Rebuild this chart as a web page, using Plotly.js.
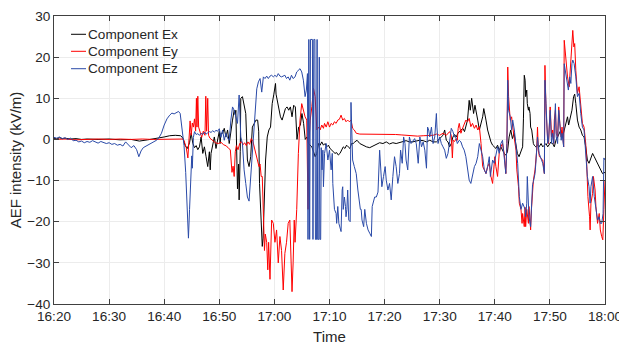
<!DOCTYPE html>
<html>
<head>
<meta charset="utf-8">
<script src="https://cdn.plot.ly/plotly-3.0.1.min.js"></script>
<style>html,body{margin:0;padding:0;background:#fff;}#chart{width:619px;height:346px;}</style>
</head>
<body>
<div id="chart"></div>
<script>
// time in minutes after 16:20, value in kV/m
const tickMinutes = [0,10,20,30,40,50,60,70,80,90,100];
const tickLabels = ['16:20','16:30','16:40','16:50','17:00','17:10','17:20','17:30','17:40','17:50','18:00'];
const seriesNames = ['Component Ex','Component Ey','Component Ez'];

const ex = [[0,0.3],[0.5,0.1],[1,0.4],[1.5,0.2],[2,0.3],[3,0.1],[4,0.2],[5,0.0],[6,0.1],[8,0.0],[10,0.1],[12,-0.1],[14,0.0],[15.5,-0.4],[17,-0.1],[18,0.1],[19,0.3],[20,0.6],[21,0.9],[22,1.0],[23,0.9],[23.4,0.3],[23.8,-1.5],[24.2,-2.2],[24.6,-0.8],[24.9,1.5],[25.2,-1],[25.5,-2],[25.8,-1.5],[26.1,-2.5],[26.4,-1.8],[26.7,0.6],[27.0,-3.4],[27.3,-1.8],[27.6,-4.2],[27.9,-6.6],[28.2,-3],[28.35,-7.4],[28.5,-3.4],[28.8,-1],[29.1,0.6],[29.4,-2.2],[29.7,-0.2],[30.0,2],[30.15,-1],[30.3,1.5],[30.6,1.5],[30.9,2.7],[31.2,0.6],[31.5,2.3],[31.8,-1],[32.1,2.3],[32.4,4.7],[32.7,7.1],[32.9,6],[33.0,7.1],[33.2,-5],[33.3,-12],[33.5,-6],[33.6,-14.7],[33.8,-3],[33.9,10],[34.2,10.4],[34.5,8],[34.8,6.3],[35.1,-5],[35.4,-6.6],[35.7,-4.2],[36.0,3],[36.35,3.9],[36.65,4.7],[36.96,4.7],[37.15,2],[37.3,-10.7],[37.55,-17],[37.8,-26],[37.95,-24],[38.15,-13.6],[38.4,-5],[38.7,0.6],[39.0,2.3],[39.3,3],[39.6,8.7],[39.9,11],[40.2,13.6],[40.3,11],[40.5,9.5],[40.8,7.9],[41.1,5.5],[41.4,4.7],[41.7,6.3],[42.0,7.5],[42.3,7.9],[42.6,7.1],[42.9,7.9],[43.2,5.5],[43.5,8.3],[43.8,7.9],[44.1,0],[44.4,3],[44.7,3.4],[45.0,6.3],[45.3,3.9],[45.6,0],[45.9,0.6],[46.2,-1],[46.8,-1.8],[47.4,-4.2],[47.7,-3.4],[48.0,-1],[48.3,-1.4],[48.6,-0.6],[48.9,-1.4],[49.2,-1],[49.5,-1.8],[49.8,-1.4],[50.1,-2.2],[50.4,-2.6],[50.7,-3],[51.0,-3.4],[51.3,-3.2],[51.6,-3.8],[51.9,-3.4],[52.2,-2.6],[52.5,-1.8],[52.8,-2.2],[53.1,-1.4],[53.4,-1.8],[53.7,-2.2],[54.0,-1],[54.3,-1],[54.6,-0.6],[55.0,-0.2],[55.5,-1],[56.0,-1.4],[56.7,-1.8],[57.3,-2],[57.9,-1.6],[58.5,-1],[59.1,-0.8],[59.7,-1],[60.3,-0.6],[60.9,-1.1],[61.5,-0.8],[62.1,-1],[62.7,-0.8],[63.3,-0.6],[63.9,-0.3],[64.5,-0.6],[65.1,-0.6],[65.7,-0.4],[66.4,-0.2],[67.0,-0.3],[67.6,-0.6],[68.2,-0.2],[68.8,-0.6],[69.4,-0.6],[70.0,0.2],[70.6,1],[70.9,2.3],[71.2,-0.2],[71.5,-0.6],[71.8,-1.8],[72.1,-1],[72.4,0.6],[72.7,1.2],[73.0,0.6],[73.3,1.5],[73.6,1.9],[73.9,2.3],[74.2,2.7],[74.5,1.9],[74.8,3.4],[75.05,4.7],[75.35,9.5],[75.55,7.1],[75.8,10],[75.95,8],[76.15,6.3],[76.4,8.3],[76.6,7.1],[76.9,4.7],[77.2,2.3],[77.5,3.9],[77.8,5.5],[78.0,7.5],[78.2,6.3],[78.4,4.7],[78.7,2.3],[79.0,0.6],[79.3,-0.6],[79.6,-1.4],[79.9,-1.8],[80.2,-2.2],[80.5,-1.4],[80.8,-2.6],[81.1,-1.8],[81.4,-2.6],[81.7,-3.4],[82.0,-3.8],[82.3,-3],[82.6,0.6],[82.9,2.3],[83.2,0.2],[83.5,1.5],[83.8,-1],[84.1,-3.4],[84.4,-4.2],[84.75,-2.6],[85.05,-1.8],[85.2,5],[85.35,15.6],[85.5,14.4],[85.6,10.4],[85.8,12],[85.9,8.7],[86.1,7.1],[86.2,7.9],[86.4,6.3],[86.5,3],[86.7,2.3],[86.85,-0.2],[87.0,-1],[87.15,-1.4],[87.45,-1.8],[87.75,-1.4],[88.05,-1.8],[88.4,-1],[88.7,-1.8],[89.0,-1.4],[89.3,-1],[89.6,-1.8],[89.9,-1],[90.2,-0.6],[90.5,-1],[90.8,-1.8],[91.1,-0.2],[91.4,0.6],[91.7,1.5],[92.0,2.3],[92.3,0.6],[92.6,2.3],[92.9,3.9],[93.2,5.5],[93.4,3.5],[93.6,4.7],[93.8,5.5],[94.0,7.1],[94.3,10.4],[94.5,11],[94.7,8.7],[95.0,4.7],[95.3,3],[95.6,2.3],[95.9,1],[96.2,0.6],[96.5,-1.8],[96.8,-5],[97.1,-5.8],[97.45,-4.2],[97.75,-3.4],[98.05,-4.2],[98.35,-5],[98.65,-5.8],[98.95,-6.6],[99.25,-7.4],[99.55,-8.3],[100,-8]];

const ey = [[0,0.0],[2,0.1],[4,-0.1],[6,0.0],[8,0.1],[10,0.0],[12,0.1],[14,0.0],[16,0.1],[18,0.0],[20,0.1],[22,0.1],[23.4,0.1],[23.6,-0.3],[24.0,-2.0],[24.3,-4.5],[24.5,-1],[24.7,4.5],[24.9,1],[25.1,4],[25.3,3],[25.5,5],[25.7,2],[25.85,10],[25.95,3],[26.1,10.5],[26.25,3],[26.5,1.5],[26.8,0.5],[27.1,2],[27.4,1],[27.55,10.5],[27.7,2],[27.9,10],[28.05,1],[28.3,0.3],[28.8,-0.3],[29.3,-0.8],[29.8,-1.0],[30.3,-0.7],[30.8,-1.3],[31.3,-1.6],[31.7,-2.2],[32.0,-2.5],[32.3,-8],[32.5,-6.5],[32.7,-9],[32.9,-3],[33.1,-1.5],[33.4,-2.5],[33.7,-1.0],[34.0,-0.5],[34.3,-1.3],[34.6,-0.8],[34.9,-1.5],[35.2,-0.6],[35.5,-1.2],[35.8,0.2],[36.1,-0.5],[36.4,-2],[36.7,-3.4],[37.0,-5],[37.2,-6.6],[37.4,-6],[37.6,-9],[37.8,-9],[38.0,-20],[38.2,-27],[38.35,-23],[38.6,-25],[38.8,-31.7],[38.95,-25],[39.2,-34],[39.35,-28],[39.5,-19.6],[39.8,-20.4],[40.1,-25],[40.4,-22],[40.7,-30],[41.0,-23.6],[41.3,-27],[41.6,-36.6],[41.9,-27.7],[42.2,-25],[42.5,-20.4],[42.8,-19.6],[43.0,-27],[43.2,-37],[43.4,-30],[43.6,-19.6],[43.75,-25],[44.05,-17],[44.35,-3.4],[44.65,4.7],[44.96,8.7],[45.26,7],[45.57,5.5],[45.87,4.7],[46.1,-17],[46.3,0],[46.5,4.7],[46.8,8],[47.1,12.4],[47.4,10.4],[47.7,2.3],[48.0,3],[48.3,2.3],[48.6,3.5],[48.9,2.7],[49.1,3.9],[49.4,3],[49.7,4.3],[50.0,3],[50.3,3.9],[50.6,3.5],[50.9,4.3],[51.2,3.9],[51.5,4.7],[51.8,4.9],[52.1,5.9],[52.4,4.7],[52.7,5.1],[53.0,4.3],[53.3,4.7],[53.6,4.3],[53.9,4.7],[54.2,2.7],[54.5,2.3],[54.85,1.5],[55.5,1.3],[56.1,1.3],[57,1.3],[58,1.2],[59,1.3],[60,1.2],[61,1.3],[62,1.2],[63,1.1],[64,1.0],[65,0.8],[66,0.8],[67,0.9],[68,1.0],[68.8,1.0],[69.4,1.3],[70.0,1.0],[70.6,1.5],[71.2,1.0],[71.8,1.9],[72.1,1.0],[72.3,-4.5],[72.45,-0.2],[72.7,-0.5],[73.0,0.2],[73.2,-0.2],[73.35,2.7],[73.55,3.9],[73.85,1.5],[74.15,2.7],[74.45,3.5],[74.75,4.7],[75.05,4.3],[75.35,5.1],[75.65,3.1],[75.95,3.9],[76.3,2.7],[76.6,3.5],[76.9,2.3],[77.2,3.1],[77.5,-1],[77.8,-6.6],[78.1,-7.4],[78.4,-8.3],[78.7,-6.6],[79.0,-5.8],[79.3,-9],[79.6,-10.7],[79.8,-7.4],[80.0,-4.2],[80.2,-6.6],[80.5,-9],[80.8,-3.4],[81.1,-1.8],[81.4,-1],[81.7,-3.4],[82.0,-8.3],[82.2,-1],[82.35,17.6],[82.5,10.4],[82.8,4.7],[83.05,5.5],[83.25,3],[83.55,0.6],[83.85,-2.6],[84.0,-7.4],[84.3,-11.5],[84.45,-15.5],[84.75,-17],[84.95,-20.4],[85.05,-18],[85.35,-21.2],[85.5,-16.5],[85.6,-21.2],[85.8,-17],[86.1,-20.4],[86.2,-16.3],[86.4,-19.6],[86.5,-22],[86.65,-17],[86.85,-11.5],[87.0,-10],[87.3,-7.4],[87.45,-5],[87.6,-2.6],[87.75,3],[87.9,-2.6],[88.1,-4.2],[88.4,-4.6],[88.7,-5],[89.0,-8.3],[89.1,18],[89.3,7.1],[89.45,3],[89.6,-0.2],[89.75,-1],[90.05,7.9],[90.3,0.6],[90.5,2.3],[90.7,-1],[90.8,4.7],[91.0,7.1],[91.15,1.5],[91.4,0.6],[91.6,7.9],[91.8,3.9],[92.05,0.6],[92.2,3],[92.5,-1.8],[92.6,24.1],[92.8,20.9],[92.9,18.4],[93.2,15.2],[93.5,12.8],[93.8,18.4],[94.0,23.3],[94.15,26.5],[94.35,22.5],[94.5,23.3],[94.7,16.8],[95.0,11.2],[95.3,12.8],[95.6,7.1],[95.9,3.9],[96.2,3],[96.5,-1],[96.7,-6.6],[96.9,-13.9],[97.2,-18.8],[97.3,-22],[97.45,-15.5],[97.75,-13.1],[97.9,-9],[98.2,-12.3],[98.35,-16.3],[98.65,-20.4],[98.95,-18],[99.15,-22],[99.4,-23.6],[99.6,-24.4],[99.8,-17],[100,-10]];

const ez = [[0,0.5],[0.5,0.3],[1,0.6],[1.5,0.2],[2,0.4],[2.5,0.0],[3,0.3],[3.5,-0.3],[4,-0.2],[4.5,-0.6],[5,-0.4],[5.5,-0.8],[6,-0.5],[6.5,-0.7],[7,-0.3],[7.5,-0.6],[8,-0.9],[8.5,-0.5],[9,-0.7],[9.5,-1.0],[10,-0.8],[10.5,-1.2],[11,-1.0],[11.5,-1.4],[12,-1.2],[12.5,-1.6],[13,-0.6],[13.5,-1.2],[14,-2.0],[14.5,-1.5],[15,-2.5],[15.4,-4.2],[15.8,-2.8],[16.2,-2.0],[16.8,-1.6],[17.4,-1.0],[18,-0.6],[18.6,-0.2],[19,0.3],[19.5,1.5],[20,3.5],[20.5,5.0],[21,5.9],[21.4,6.4],[21.8,6.2],[22.2,6.5],[22.6,6.8],[22.9,6.3],[23.2,3.5],[23.6,-1.5],[23.9,-8],[24.2,-18],[24.4,-24],[24.6,-17],[24.8,-9],[25.0,-4],[25.1,-7],[25.3,0.5],[25.5,1.9],[25.8,1.2],[26.1,1.4],[26.4,1.0],[26.7,1.5],[27.0,1.2],[27.3,1.8],[27.6,1.3],[27.9,1.6],[28.2,1.9],[28.5,1.7],[28.8,2.1],[29.1,1.8],[29.4,2.2],[29.7,2.0],[30.0,2.6],[30.3,0.5],[30.6,2.3],[30.9,-0.2],[31.2,1.5],[31.5,0.3],[31.8,-0.2],[32.1,4.7],[32.4,7.9],[32.7,7.1],[33.0,5.5],[33.3,3.9],[33.6,10.8],[33.75,4],[33.9,0.6],[34.2,-1],[34.5,-7.4],[34.8,-10.7],[35.1,-14],[35.4,-15],[35.7,-9],[36.0,-1],[36.3,4.7],[36.5,8],[36.8,12.3],[37.1,14],[37.4,14.8],[37.7,11.5],[38.0,15.2],[38.3,14.8],[38.6,15.4],[38.9,14.8],[39.2,15.4],[39.5,15.6],[39.8,15.2],[40.1,15.6],[40.4,15.2],[40.7,16],[41.0,15.4],[41.3,15.2],[41.6,15.4],[41.9,15.6],[42.2,14.8],[42.5,15.2],[42.8,14.4],[43.1,15.6],[43.4,14.8],[43.75,15.2],[44.05,16.4],[44.35,16.8],[44.65,17.2],[44.96,16.4],[45.26,14.4],[45.57,10.4],[45.8,12],[46.0,16],[46.1,-24.3],[46.25,24.3],[46.4,-24.3],[46.55,24.3],[46.9,24.3],[47.0,-24.3],[47.15,24.3],[47.35,24.3],[47.45,-24.3],[47.65,-24.3],[47.75,24.3],[47.85,-24.3],[48.05,-24.3],[48.15,20],[48.25,-24.3],[48.4,-24.3],[48.5,-2],[48.65,-7.4],[48.8,-2.6],[48.9,-11.5],[49.1,-3.4],[49.4,-1],[49.7,-5],[50.0,-2.6],[50.3,-7.4],[50.5,-3.4],[50.6,-10.7],[50.9,-17],[51.2,-18],[51.3,-20.4],[51.5,-16.3],[51.7,-20.4],[51.9,-21.6],[52.1,-22.4],[52.3,-12.3],[52.4,-11.5],[52.5,-17],[52.7,-14],[52.9,-16.3],[53.0,-18.8],[53.15,-17],[53.3,-12.3],[53.5,-19.6],[53.75,-20],[53.9,9],[54.1,-1],[54.2,-5],[54.5,-6.6],[54.85,-8.3],[55.15,-12.3],[55.3,-14],[55.6,-17],[55.75,-17],[55.9,-19.6],[56.2,-21.2],[56.4,-17],[56.7,-20.4],[57.0,-22],[57.3,-22.8],[57.6,-23.6],[57.75,-16.3],[58.0,-14.7],[58.2,-14],[58.5,-14],[58.8,-12.8],[59.1,-2.6],[59.3,-9],[59.5,-11.5],[59.8,-9],[60.1,-6.6],[60.3,-9.9],[60.6,-12.3],[60.9,-10.7],[61.2,-14.7],[61.5,-9],[61.8,-4.2],[62.1,-6.6],[62.4,-10.7],[62.7,-8.3],[62.9,-2.6],[63.2,-5.8],[63.45,0.6],[63.7,-1],[63.9,-5],[64.2,-7.4],[64.5,0.6],[64.8,-1],[65.15,-0.2],[65.45,0.2],[65.75,-1],[66.1,-5.8],[66.4,0.6],[66.7,-1.8],[67.0,-0.6],[67.3,-2.6],[67.6,-7],[67.8,3],[68.0,2.3],[68.2,0.6],[68.5,3],[68.8,-1],[69.1,0.6],[69.4,6.3],[69.5,3],[69.7,-1],[70.0,0.6],[70.3,-1],[70.6,-1.8],[70.9,-2.6],[71.2,-4.6],[71.5,-3.4],[71.8,-0.6],[72.1,2.7],[72.4,1.9],[72.7,0.6],[72.9,0.6],[73.2,-1],[73.55,-0.2],[73.85,-0.6],[74.15,-1.8],[74.45,-2.6],[74.75,-4.2],[75.05,-7.4],[75.35,-9.9],[75.65,-10.7],[75.95,-8.3],[76.3,-6.6],[76.6,-5.8],[76.9,-4.2],[77.2,-1],[77.5,-2.6],[77.8,-4.2],[78.1,-7.4],[78.4,-8.3],[78.7,-6.6],[79.0,-4.2],[79.2,-9],[79.4,-6.6],[79.6,-5],[79.9,-5.8],[80.2,-3.4],[80.5,-1.8],[80.8,-3.4],[81.1,-1],[81.4,-0.2],[81.7,-4.2],[82.0,-8.3],[82.2,-1],[82.35,14.4],[82.5,7.1],[82.8,5.5],[83.05,2.3],[83.25,4.7],[83.55,2.3],[83.85,-2.6],[84.15,-5.8],[84.45,-13.9],[84.75,-17],[85.05,-15.5],[85.35,-16.3],[85.5,-17],[85.6,-18.8],[85.8,-15.5],[85.9,-9],[86.1,-14],[86.2,-18.8],[86.5,-21.2],[86.7,-14],[86.85,-11],[87.0,-10.3],[87.3,-8.3],[87.45,-5.8],[87.6,-3.4],[87.75,0.6],[88.05,-3.4],[88.4,-5],[88.7,-5.8],[89.0,-8.3],[89.1,14.4],[89.3,8.7],[89.45,2.3],[89.6,-1],[89.75,-0.2],[90.05,7.1],[90.3,-1],[90.5,1.5],[90.7,-1],[90.8,3.9],[91.0,8.7],[91.15,0.6],[91.4,-1],[91.6,7.1],[91.8,3],[92.05,-0.2],[92.2,1.5],[92.5,-1.8],[92.6,18.4],[92.8,16.8],[93.1,13.6],[93.35,12],[93.6,15.2],[93.8,13.6],[94.0,18.4],[94.15,19.3],[94.4,18.4],[94.7,15.2],[95.0,10.4],[95.3,11.2],[95.6,6.3],[95.9,3],[96.2,2.3],[96.5,-2.6],[96.8,-9],[97.1,-11.5],[97.3,-15.5],[97.45,-11.5],[97.75,-9],[98.05,-13.9],[98.35,-17],[98.65,-19.6],[98.95,-18.8],[99.15,-20.4],[99.4,-20.4],[99.65,-18],[99.8,-4.5],[100,-5]];

const colors = ['#000000','#ff0000','#2a4aa8'];
const all = [ex, ey, ez];
const traces = all.map((s, i) => ({
  type: 'scatter', mode: 'lines', name: seriesNames[i], showlegend: false,
  x: s.map(p => p[0]), y: s.map(p => p[1]),
  line: {color: colors[i], width: 1}
}));

const FONT = 'Liberation Sans, Arial, sans-serif';
const axisCommon = {
  showline: true, mirror: 'ticks', linecolor: '#404040', linewidth: 1,
  ticks: 'inside', ticklen: 5, tickcolor: '#404040', tickwidth: 1,
  showgrid: true, gridcolor: '#ececec', gridwidth: 1, zeroline: false,
  tickfont: {family: FONT, size: 13.6, color: '#262626'}
};

// legend drawn as a white box, short line keys and text labels (paper coordinates)
const legX0 = 0.0309, legX1 = 0.0581, legTextX = 0.0599;
const legY = [0.9365, 0.8774, 0.8170];
const shapes = [{type: 'rect', xref: 'paper', yref: 'paper', x0: 0.009, x1: 0.236, y0: 0.78, y1: 0.975,
                 fillcolor: '#ffffff', line: {width: 0}, layer: 'between'}];
const annotations = [];
seriesNames.forEach((n, i) => {
  shapes.push({type: 'line', xref: 'paper', yref: 'paper', x0: legX0, x1: legX1, y0: legY[i], y1: legY[i],
               line: {color: colors[i], width: 1}, layer: 'above'});
  annotations.push({xref: 'paper', yref: 'paper', x: legTextX, y: legY[i], xanchor: 'left', yanchor: 'middle',
                    text: n, showarrow: false, borderpad: 0,
                    font: {family: FONT, size: 13.6, color: '#262626'}});
});

const layout = {
  width: 619, height: 346,
  margin: {l: 54, r: 14, t: 16, b: 42},
  paper_bgcolor: '#fff', plot_bgcolor: '#fff',
  font: {family: FONT, size: 13.6, color: '#262626'},
  xaxis: Object.assign({}, axisCommon, {
    range: [0, 100], tickmode: 'array', tickvals: tickMinutes, ticktext: tickLabels,
    ticklabeloverflow: 'allow',
    title: {text: 'Time', font: {family: FONT, size: 15, color: '#262626'}, standoff: 8}
  }),
  yaxis: Object.assign({}, axisCommon, {
    range: [-40, 30], tickmode: 'linear', tick0: -40, dtick: 10,
    title: {text: 'AEF intensity (kV/m)', font: {family: FONT, size: 15, color: '#262626'}, standoff: 1}
  }),
  showlegend: false,
  shapes: shapes,
  annotations: annotations
};

Plotly.newPlot('chart', traces, layout, {displayModeBar: false, staticPlot: true});
</script>
</body>
</html>
